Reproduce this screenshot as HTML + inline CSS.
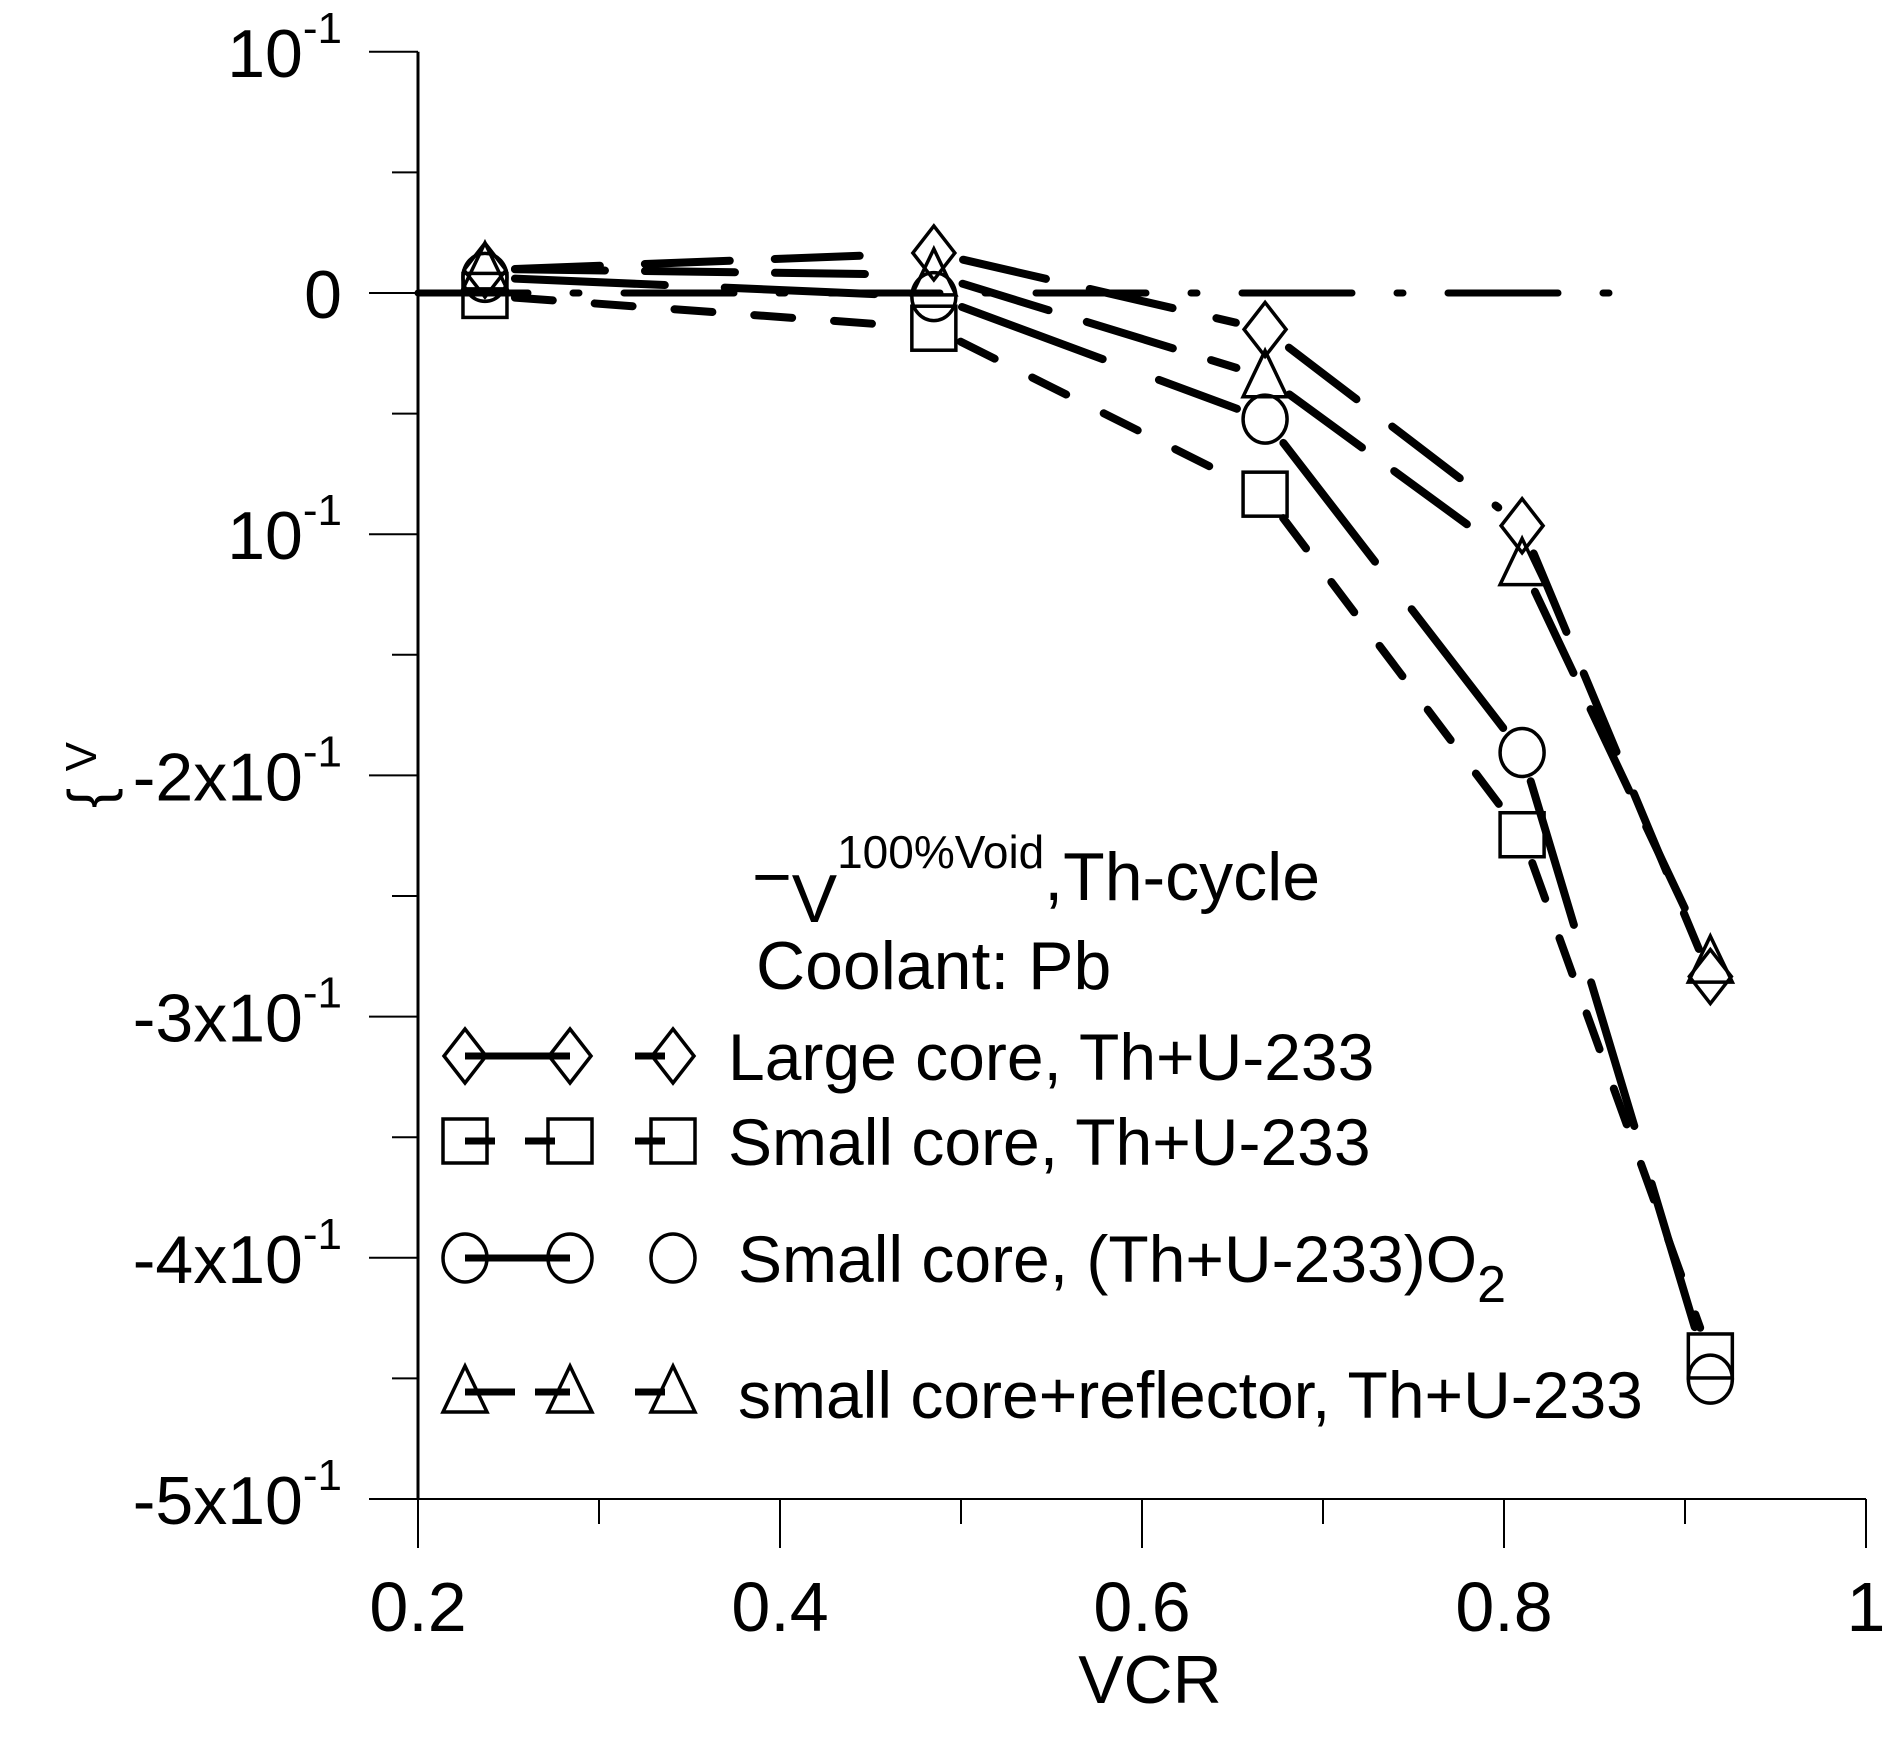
<!DOCTYPE html>
<html><head><meta charset="utf-8"><style>
html,body{margin:0;padding:0;background:#fff}
svg{display:block;font-family:"Liberation Sans",Arial,sans-serif}
</style></head><body>
<svg id="chart" width="1901" height="1741" viewBox="0 0 1901 1741" xmlns="http://www.w3.org/2000/svg">
<rect width="1901" height="1741" fill="#fff"/>
<g id="axes"></g>
<g id="series"></g>
<g id="markers"></g>
<text x="1150" y="1703" font-size="68" text-anchor="middle">VCR</text>
<text transform="translate(110,775) rotate(-90)" font-size="60" text-anchor="middle">{ <tspan font-size="44" dy="-14">V</tspan></text>
<g>
<text x="752" y="900" font-size="68">−<tspan dy="22">V</tspan><tspan font-size="46" dy="-54">100%Void</tspan><tspan dy="32">,Th-cycle</tspan></text>
<text x="756" y="989" font-size="68">Coolant: Pb</text>
</g>
<g id="legend"></g>
</svg>
<script>
const NS="http://www.w3.org/2000/svg";
const xVals=[0.237,0.485,0.668,0.810,0.914];
const largeCore=[0.0095,0.0166,-0.0151,-0.0965,-0.2834];
const smallCore=[-0.001,-0.0146,-0.0834,-0.2246,-0.4407];
const smallOxide=[0.0065,-0.0015,-0.0523,-0.1905,-0.4503];
const smallRefl=[0.010,0.0075,-0.0347,-0.1126,-0.2774];
const xTicks=[0.2,0.4,0.6,0.8,1.0];
const xTickLabels=["0.2","0.4","0.6","0.8","1"];
const yTicks=[0.1,0,-0.1,-0.2,-0.3,-0.4,-0.5];
const yTickMain=["10","0","10","-2x10","-3x10","-4x10","-5x10"];
const yTickExp=["-1","","-1","-1","-1","-1","-1"];
const zeroLine=[0.2,0.871];

const X=v=>418+(v-0.2)*1810;
const Y=v=>293-v*2412;
function el(tag,attrs,parent){const e=document.createElementNS(NS,tag);for(const k in attrs)e.setAttribute(k,attrs[k]);parent.appendChild(e);return e;}
const axes=document.getElementById('axes');
let a=el('line',{x1:418,y1:Y(0.1),x2:418,y2:Y(-0.5),stroke:'#000','stroke-width':3},axes);


a=el('line',{x1:418,y1:Y(-0.5),x2:X(1.0),y2:Y(-0.5),stroke:'#000','stroke-width':2},axes);


yTicks.forEach((v,i)=>{
  const t=el('line',{x1:369,y1:Y(v),x2:418,y2:Y(v),stroke:'#000','stroke-width':2},axes);
  
  
  if(i<yTicks.length-1){const m=el('line',{x1:392,y1:Y(v-0.05),x2:418,y2:Y(v-0.05),stroke:'#000','stroke-width':2},axes);
  
  }
  const tx=el('text',{x:342,y:Y(v)+25,'font-size':68,'text-anchor':'end'},axes);
  
  
  tx.appendChild(document.createTextNode(yTickMain[i]));
  if(yTickExp[i]){const s=el('tspan',{'font-size':44,dy:-34},tx);s.textContent=yTickExp[i];}
});
xTicks.forEach((v,i)=>{
  const t=el('line',{x1:X(v),y1:Y(-0.5),x2:X(v),y2:Y(-0.5)+49,stroke:'#000','stroke-width':2},axes);
  
  
  if(i<xTicks.length-1){const m=el('line',{x1:X(v+0.1),y1:Y(-0.5),x2:X(v+0.1),y2:Y(-0.5)+25,stroke:'#000','stroke-width':2},axes);
  
  }
  const tx=el('text',{x:X(v),y:1631,'font-size':70,'text-anchor':'middle'},axes);
  
  
  tx.textContent=xTickLabels[i];
});
const series=document.getElementById('series');
const z=el('line',{x1:X(zeroLine[0]),y1:Y(0),x2:X(zeroLine[1]),y2:Y(0),stroke:'#000','stroke-width':7,'stroke-dasharray':'110 45 6 45','stroke-linecap':'round'},series);



function marker(type,x,y,parent){
  let m;
  if(type==='diamond')m=el('polygon',{points:`${x},${y-27} ${x+21},${y} ${x},${y+27} ${x-21},${y}`},parent);
  else if(type==='square')m=el('rect',{x:x-22,y:y-22,width:44,height:44},parent);
  else if(type==='circle')m=el('ellipse',{cx:x,cy:y,rx:22,ry:24},parent);
  else m=el('polygon',{points:`${x},${y-26} ${x+22},${y+20} ${x-22},${y+20}`},parent);
  m.setAttribute('fill','none');m.setAttribute('stroke','#000');m.setAttribute('stroke-width',3.5);
  return m;
}
const defs=[
 {name:'large-core',data:largeCore,type:'diamond',dash:'85 45'},
 {name:'small-core',data:smallCore,type:'square',dash:'38 42'},
 {name:'small-core-oxide',data:smallOxide,type:'circle',dash:'150 60'},
 {name:'small-core-reflector',data:smallRefl,type:'triangle',dash:'90 40'}
];
const mk=document.getElementById('markers');
defs.forEach(s=>{
  for(let i=0;i<xVals.length-1;i++){
    const x1=X(xVals[i]),y1=Y(s.data[i]),x2=X(xVals[i+1]),y2=Y(s.data[i+1]);
    const L=Math.hypot(x2-x1,y2-y1),g=30/L;
    const ln=el('line',{x1:x1+(x2-x1)*g,y1:y1+(y2-y1)*g,x2:x2-(x2-x1)*g,y2:y2-(y2-y1)*g,stroke:'#000','stroke-width':8,'stroke-dasharray':s.dash,'stroke-linecap':'round'},series);
    
    
  }
  xVals.forEach((xv,i)=>{
    const m=marker(s.type,X(xv),Y(s.data[i]),mk);
    
    
  });
});
const lg=document.getElementById('legend');
const legendRows=[
 {type:'diamond',y:1056,ty:1080,tx:728,label:'Large core, Th+U-233',dash:'none'},
 {type:'square',y:1141,ty:1165,tx:728,label:'Small core, Th+U-233',dash:'30 30'},
 {type:'circle',y:1258,ty:1282,tx:738,label:'Small core, (Th+U-233)O',dash:'none'},
 {type:'triangle',y:1392,ty:1418,tx:738,label:'small core+reflector, Th+U-233',dash:'50 20'}
];
legendRows.forEach((r,i)=>{
  const g=el('g',{},lg);
  
  
  el('line',{x1:465,y1:r.y,x2:570,y2:r.y,stroke:'#000','stroke-width':7,'stroke-dasharray':r.dash},g);
  if(r.type!=='circle')el('line',{x1:635,y1:r.y,x2:665,y2:r.y,stroke:'#000','stroke-width':7},g);
  [465,570,673].forEach(x=>{const m=marker(r.type,x,r.y,g);m.setAttribute('fill','none');});
  const t=el('text',{x:r.tx,y:r.ty,'font-size':66},g);
  t.textContent=r.label;
  if(i===2){const s=el('tspan',{'font-size':52,dy:20},t);s.textContent='2';}
});
</script>
</body></html>
